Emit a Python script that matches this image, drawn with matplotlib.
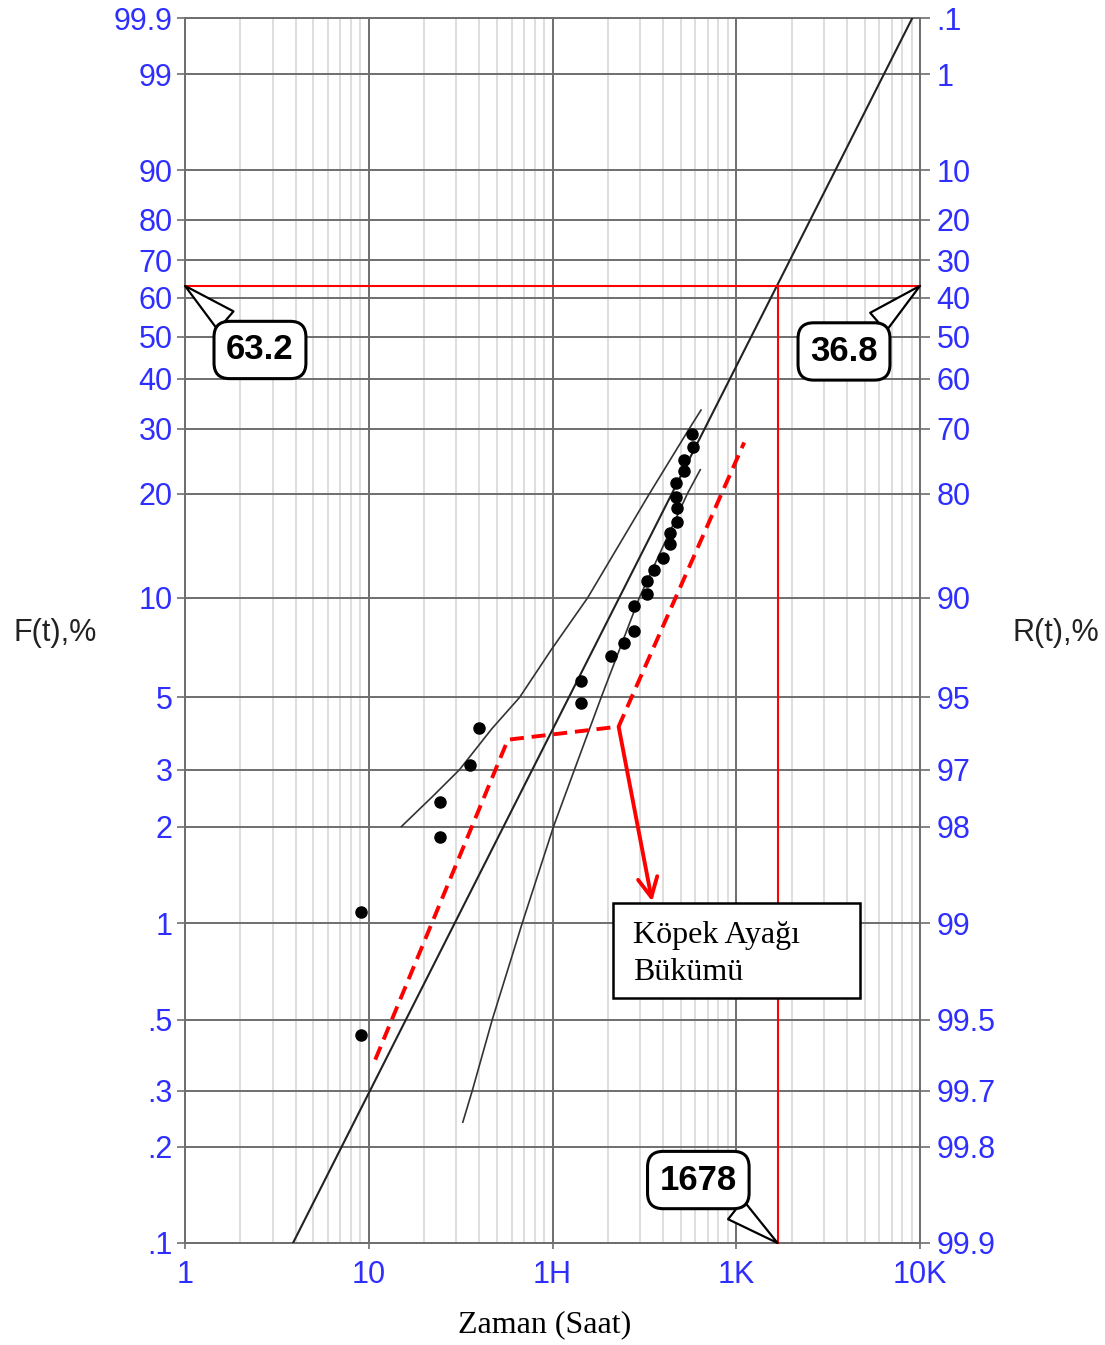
import numpy as np
import matplotlib
matplotlib.use('Agg')
import matplotlib.pyplot as plt
from matplotlib.ticker import LogLocator, NullLocator
from matplotlib.patches import Rectangle

plt.rcParams['font.family'] = ['Liberation Sans', 'DejaVu Sans']

# --- data ---
# failure times (hours) and median-rank unreliability F(t) %
fail_times = [9.05, 9.05, 24.5, 24.5, 35.4, 39.8, 143, 143, 208, 246, 276, 276,
              327, 327, 355, 398, 438, 438, 476, 476, 470, 470, 517, 517, 579, 575]
fail_F = [0.449, 1.085, 1.85, 2.39, 3.10, 4.03, 4.80, 5.62, 6.69, 7.33, 7.97, 9.47,
          10.24, 11.21, 12.08, 13.07, 14.36, 15.45, 16.66, 18.20, 19.62, 21.47,
          23.12, 24.78, 26.91, 29.01]

# fitted Weibull line (end points)
fit_t = [3.87, 9084]
fit_F = [0.1, 99.9]

# confidence bounds
upper_t = [15.06, 22.6, 31.2, 46.6, 66.2, 98.8, 155.5, 337, 555, 643]
upper_F = [2.0, 2.5, 3.0, 4.0, 5.0, 7.0, 10.0, 20.0, 30.0, 33.5]
lower_t = [32.5, 36.6, 47.0, 68.4, 101.3, 131.7, 184, 297, 542, 637]
lower_F = [0.239, 0.3, 0.5, 1.0, 2.0, 3.0, 5.0, 10.0, 20.0, 23.3]

# dog-leg sketch (red dashed)
dog_t = [10.85, 57.2, 229, 1105]
dog_F = [0.375, 3.71, 4.07, 27.6]
arrow_from = (229, 4.07)
arrow_to = (348.6, 1.17)

eta = 1678
F_eta = 63.2

F_ticks = [99.9, 99, 90, 80, 70, 60, 50, 40, 30, 20, 10, 5, 3, 2, 1, 0.5, 0.3, 0.2, 0.1]
F_labels = ['99.9', '99', '90', '80', '70', '60', '50', '40', '30', '20', '10',
            '5', '3', '2', '1', '.5', '.3', '.2', '.1']
R_labels = ['.1', '1', '10', '20', '30', '40', '50', '60', '70', '80', '90',
            '95', '97', '98', '99', '99.5', '99.7', '99.8', '99.9']
x_ticks = [1, 10, 100, 1000, 10000]
x_labels = ['1', '10', '1H', '1K', '10K']

blue = '#2e2eff'
grid_dark = '#6e6e6e'


def fwd(F):
    F = np.clip(np.asarray(F, dtype=float), 1e-6, 99.99999)
    return np.log(-np.log(1 - F / 100.0))


def inv(y):
    return 100.0 * (1 - np.exp(-np.exp(np.asarray(y, dtype=float))))


fig = plt.figure(figsize=(11.05, 13.45), dpi=100)
ax = fig.add_axes([185 / 1105, 102 / 1345, 735 / 1105, 1225 / 1345])
ax.set_xscale('log')
ax.set_yscale('function', functions=(fwd, inv))
ax.set_xlim(1, 10000)
ax.set_ylim(0.1, 99.9)

ax.set_xticks(x_ticks)
ax.set_xticklabels(x_labels)
ax.xaxis.set_minor_locator(LogLocator(base=10, subs=range(2, 10)))
ax.set_yticks(F_ticks)
ax.set_yticklabels(F_labels)
ax.yaxis.set_minor_locator(NullLocator())

ax.set_axisbelow(True)
ax.grid(which='major', color=grid_dark, lw=1.4)
ax.grid(which='minor', axis='x', color='#d8d8d8', lw=1.2)
for sp in ax.spines.values():
    sp.set_color(grid_dark)
    sp.set_linewidth(1.4)

ax.tick_params(which='major', labelsize=22, labelcolor=blue, color=grid_dark, width=1.2)
ax.tick_params(axis='x', which='major', length=4, pad=8)
ax.tick_params(axis='y', which='major', length=6, pad=3)
ax.tick_params(which='minor', length=0)

ax2 = ax.twinx()
ax2.set_yscale('function', functions=(fwd, inv))
ax2.set_ylim(0.1, 99.9)
ax2.set_yticks(F_ticks)
ax2.set_yticklabels(R_labels)
ax2.yaxis.set_minor_locator(NullLocator())
ax2.tick_params(axis='y', which='major', length=7, pad=5, labelsize=22,
                labelcolor=blue, color=grid_dark, width=1.2)
ax2.tick_params(which='minor', length=0)
for sp in ax2.spines.values():
    sp.set_visible(False)

# lines and points
ax.plot(fit_t, fit_F, color='#222222', lw=1.5, zorder=3)
ax.plot(upper_t, upper_F, color='#333333', lw=1.2, zorder=3)
ax.plot(lower_t, lower_F, color='#333333', lw=1.2, zorder=3)
ax.plot(fail_times, fail_F, 'o', color='black', ms=8, zorder=4)

ax.plot([1, 10000], [F_eta, F_eta], color='red', lw=1.5, zorder=3, clip_on=False)
ax.plot([eta, eta], [0.1, F_eta], color='red', lw=1.5, zorder=3, clip_on=False)

ax.plot(dog_t, dog_F, color='red', lw=2.8, dashes=(3.6, 2.0), zorder=4)
ax.annotate('', xy=arrow_to, xytext=arrow_from,
            arrowprops=dict(arrowstyle='->,head_length=0.7,head_width=0.35',
                            color='red', lw=2.8, shrinkA=0, shrinkB=0,
                            mutation_scale=20), zorder=4)

# note box
ax.add_patch(Rectangle((0.582, 0.1998), 0.337, 0.0775, transform=ax.transAxes,
                       fc='white', ec='black', lw=1.8, zorder=5))
ax.text(0.610, 0.2447, 'Köpek Ayağı', transform=ax.transAxes, fontsize=23,
        family='Liberation Serif', va='baseline', ha='left', zorder=6)
ax.text(0.610, 0.2147, 'Bükümü', transform=ax.transAxes, fontsize=23,
        family='Liberation Serif', va='baseline', ha='left', zorder=6)

# callouts
callouts = [('63.2', (1, F_eta), (0.102, 0.729)),
            ('36.8', (10000, F_eta), (0.8966, 0.7278)),
            (str(eta), (eta, 0.1), (0.6984, 0.0514))]
for txt, xy, xyt in callouts:
    ax.annotate(txt, xy=xy, xycoords='data', xytext=xyt, textcoords='axes fraction',
                ha='center', va='center', fontsize=25, fontweight='bold',
                bbox=dict(boxstyle='round,pad=0.35,rounding_size=0.45',
                          fc='white', ec='black', lw=2.2),
                arrowprops=dict(arrowstyle='wedge,tail_width=0.7', fc='white',
                                ec='black', lw=1.6, shrinkA=0, shrinkB=0),
                annotation_clip=False, zorder=7)

fig.text(13 / 1105, 1 - 633 / 1345, 'F(t),%', fontsize=22, color='#222222',
         ha='left', va='center')
fig.text(1099 / 1105, 1 - 633 / 1345, 'R(t),%', fontsize=22, color='#222222',
         ha='right', va='center')
fig.text(545 / 1105, 1 - 1325 / 1345, 'Zaman (Saat)', fontsize=23,
         family='Liberation Serif', ha='center', va='center')

fig.savefig('out.png', dpi=100)
